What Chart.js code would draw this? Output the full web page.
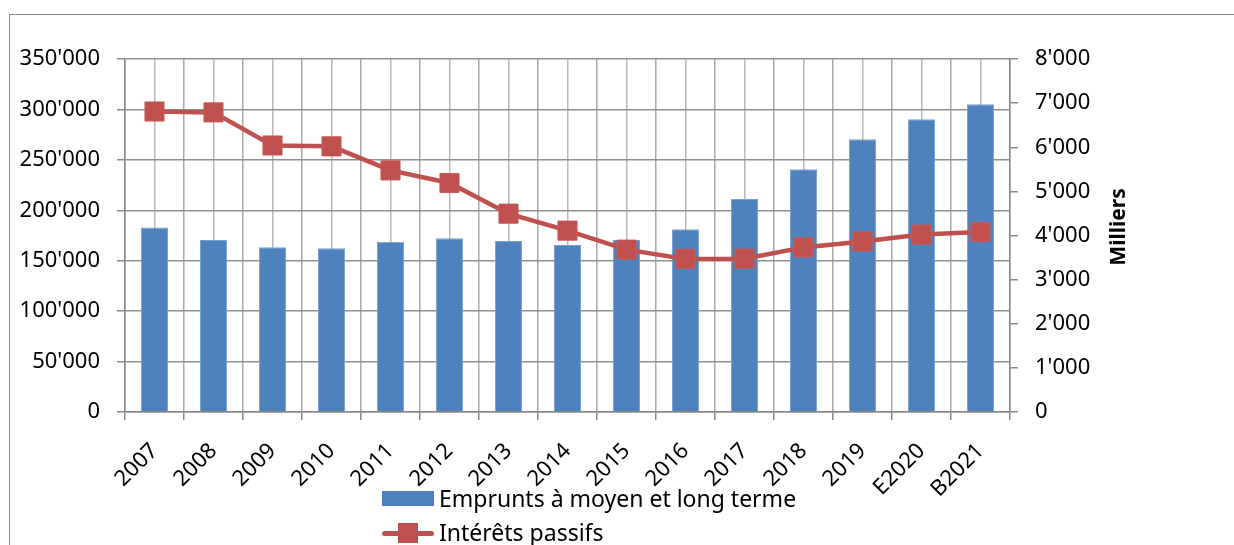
<!DOCTYPE html>
<html lang="fr">

<head>
    <meta charset="UTF-8">
    <title>Emprunts à moyen et long terme - Intérêts passifs</title>
    <script src="https://cdn.jsdelivr.net/npm/chart.js@4"></script>
    <style>
        body { margin: 0; background: #fff; font-family: "Noto Sans", sans-serif; }
        #wrap { position: relative; width: 1234px; height: 545px; overflow: hidden; }
        #cadre { position: absolute; left: 9px; top: 14px; width: 1260px; height: 600px;
                 border: 1.5px solid #8a8a8a; box-sizing: border-box; pointer-events: none; }
        canvas { position: absolute; left: 0; top: 0; }
        .titre-droite { position: absolute; left: 1117px; top: 227px; font-weight: bold; font-size: 21px;
                        transform: translate(-50%, -50%) rotate(-90deg); white-space: nowrap; color: #000; }
        .legende { position: absolute; left: 382px; font-size: 23px; color: #000; white-space: nowrap; }
        .legende .txt { position: absolute; left: 57px; top: 50%; transform: translateY(-52%); }
        .boite { position: absolute; left: 0; width: 52px; height: 15px; background: #4F81BD; }
        .trait { position: absolute; left: 0; width: 52px; height: 5px; background: #C0504D; border-radius: 3px; }
        .carre { position: absolute; left: 16px; width: 20px; height: 20px; background: #C0504D; }
    </style>
</head>

<body>
    <div id="wrap">
        <canvas id="graphique" width="1234" height="545"></canvas>
        <div id="cadre"></div>
        <div class="titre-droite">Milliers</div>
        <!-- légende en deux lignes comme dans l'original -->
        <div class="legende" style="top:491px;height:15px">
            <div class="boite" style="top:0"></div>
            <span class="txt">Emprunts à moyen et long terme</span>
        </div>
        <div class="legende" style="top:523px;height:20px">
            <div class="trait" style="top:7.5px"></div>
            <div class="carre" style="top:0"></div>
            <span class="txt">Intérêts passifs</span>
        </div>
    </div>

    <script>
        // Données
        const annees = ['2007', '2008', '2009', '2010', '2011', '2012', '2013', '2014', '2015', '2016', '2017', '2018', '2019', 'E2020', 'B2021'];
        const emprunts = [183000, 170500, 163300, 162300, 168900, 172200, 169500, 165600, 170500, 181100, 211200, 240600, 270400, 290200, 305100];
        const interets = [6810, 6790, 6040, 6020, 5475, 5190, 4495, 4110, 3680, 3470, 3475, 3730, 3865, 4020, 4080];

        // Bornes des axes
        const maxGauche = 350000, pasGauche = 50000;
        const maxDroite = 8000, pasDroite = 1000;

        // 350000 -> 350'000
        function formatSuisse(v) {
            return String(v).replace(/\B(?=(\d{3})+(?!\d))/g, "'");
        }

        const police = { family: 'Noto Sans', size: 22 };

        const ctx = document.getElementById('graphique').getContext('2d');
        const graphique = new Chart(ctx, {
            type: 'bar',
            data: {
                labels: annees,
                datasets: [{
                    type: 'line',
                    label: 'Intérêts passifs',
                    data: interets,
                    yAxisID: 'yD',
                    xAxisID: 'x',
                    borderColor: '#C0504D',
                    backgroundColor: '#C0504D',
                    borderWidth: 4.5,
                    pointStyle: 'rect',
                    pointRadius: 13.5,
                    pointBorderWidth: 1,
                    pointBorderColor: '#C85A57',
                    pointBackgroundColor: '#C0504D',
                    tension: 0,
                    order: 0
                }, {
                    type: 'bar',
                    label: 'Emprunts à moyen et long terme',
                    data: emprunts,
                    yAxisID: 'yG',
                    xAxisID: 'x',
                    backgroundColor: '#4F81BD',
                    borderColor: '#7AA0D0',
                    borderWidth: 1,
                    barPercentage: 0.46,
                    categoryPercentage: 1,
                    order: 1
                }]
            },
            options: {
                responsive: false,
                animation: false,
                layout: { padding: { top: 59, left: 0, right: 0, bottom: 0 } },
                plugins: {
                    legend: { display: false },
                    tooltip: { enabled: false }
                },
                scales: {
                    x: {
                        type: 'category',
                        position: 'bottom',
                        offset: true,
                        grid: { offset: true, color: '#a8a8a8', lineWidth: 1.5, tickLength: 8, tickColor: '#8a8a8a' },
                        border: { color: '#888888', width: 1.5 },
                        ticks: { font: police, color: '#000', minRotation: 45, maxRotation: 45, autoSkip: false, padding: 18 },
                        afterFit: (s) => { s.height = 133; }
                    },
                    x2: {
                        type: 'category',
                        position: 'bottom',
                        offset: true,
                        grid: { offset: false, color: '#b8b8b8', lineWidth: 1.5, drawTicks: false },
                        border: { display: false },
                        ticks: { display: false },
                        afterFit: (s) => { s.height = 0; }
                    },
                    yG: {
                        position: 'left',
                        min: 0,
                        max: maxGauche,
                        ticks: { stepSize: pasGauche, font: police, color: '#000', padding: 17, callback: (v) => formatSuisse(v) },
                        grid: { color: '#8f8f8f', lineWidth: 1.5, tickLength: 8, tickColor: '#8a8a8a' },
                        border: { color: '#888888', width: 1.5 },
                        afterFit: (s) => { s.width = 125; }
                    },
                    yD: {
                        position: 'right',
                        min: 0,
                        max: maxDroite,
                        ticks: { stepSize: pasDroite, font: police, color: '#000', padding: 17, callback: (v) => formatSuisse(v) },
                        grid: { drawOnChartArea: false, tickLength: 8, tickColor: '#8a8a8a', lineWidth: 1.5 },
                        border: { color: '#888888', width: 1.5 },
                        afterFit: (s) => { s.width = 224; }
                    }
                }
            }
        });
    </script>
</body>

</html>
